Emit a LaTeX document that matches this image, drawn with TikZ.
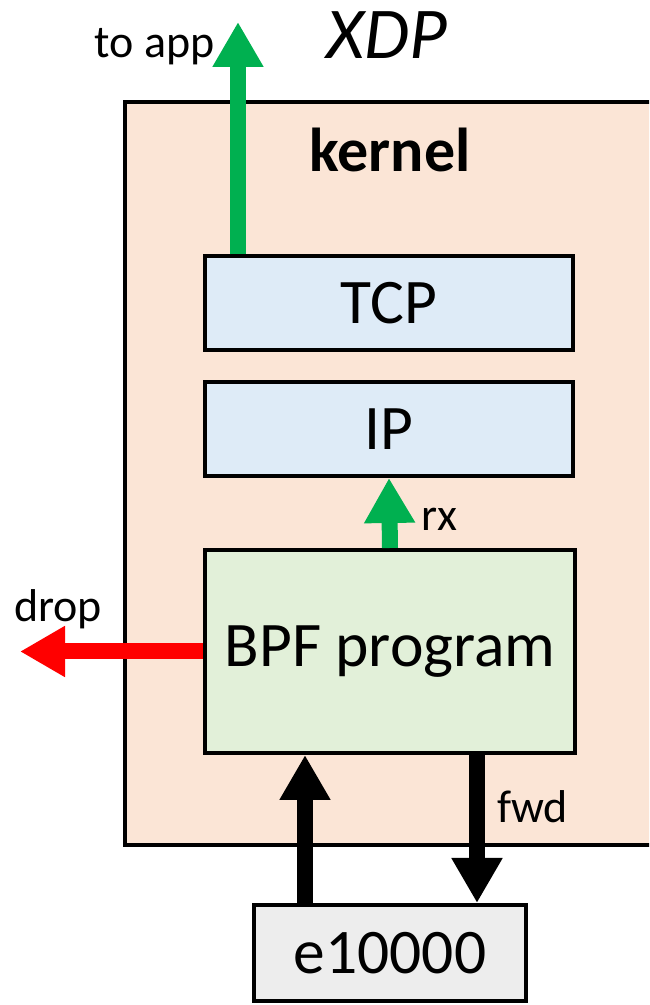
\documentclass[tikz,border=0pt]{standalone}
\usepackage{fontspec}
\setmainfont{Carlito}
\definecolor{kernfill}{RGB}{251,229,214}
\definecolor{stackfill}{RGB}{222,235,247}
\definecolor{bpffill}{RGB}{226,240,217}
\definecolor{nicfill}{RGB}{237,237,237}
\definecolor{passgreen}{RGB}{0,176,80}
\definecolor{dropred}{RGB}{255,0,0}
\usetikzlibrary{arrows.meta,positioning}

\begin{document}
\begin{tikzpicture}[x=1pt,y=1pt,
  box/.style={draw,line width=4pt,inner sep=0pt,minimum width=368pt,minimum height=94pt,font=\fontsize{63.5}{76}\selectfont},
  arr/.style={line width=16pt,-{Triangle[length=45pt,width=48pt]}},
  lbl/.style={font=\fontsize{46}{55}\selectfont,inner sep=0pt}]
  \clip (0,0) rectangle (649,1005);
  % Kernel area, runs off the right side
  \node[draw,line width=4pt,fill=kernfill,minimum width=555pt,minimum height=743pt] (kern) at (402.5,531.5) {};
  \node[font=\fontsize{62}{74}\selectfont\bfseries,inner sep=0pt,anchor=base] (kernlbl) at (390,833) {kernel};
  \node[font=\fontsize{73}{88}\selectfont\itshape,inner sep=0pt,anchor=base] (xdp) at (387,946) {XDP};
  % Network stack and the hook
  \node[box,fill=stackfill] (tcp) at (389,701.5) {TCP};
  \node[box,fill=stackfill] (ip) at (389,576) {IP};
  \node[box,fill=bpffill,minimum width=370pt,minimum height=203pt] (bpf) at (390,353.5) {BPF program};
  \node[box,fill=nicfill,minimum width=272pt,minimum height=96pt] (nic) at (390,52) {e10000};
  % Verdicts
  \coordinate (app) at (238,983);
  \coordinate (dropend) at (20,353.5);
  \draw[arr,passgreen] (tcp.north -| app) -- (app);
  \draw[arr,passgreen] (bpf.north) -- (ip.south);
  \draw[arr,dropred] (bpf.west) -- (dropend);
  \draw[arr,black] ([xshift=-85pt]nic.north) -- ([xshift=-85pt]bpf.south);
  \draw[arr,black] ([xshift=87pt]bpf.south) -- ([xshift=87pt]nic.north);
  \node[lbl,anchor=base east] (applbl) at (215,947) {to app};
  \node[lbl,anchor=base west] (rxlbl) at (421,474) {rx};
  \node[lbl,anchor=base] (droplbl) at (58,383) {drop};
  \node[lbl,anchor=base west] (fwdlbl) at (497,182) {fwd};
\end{tikzpicture}
\end{document}
